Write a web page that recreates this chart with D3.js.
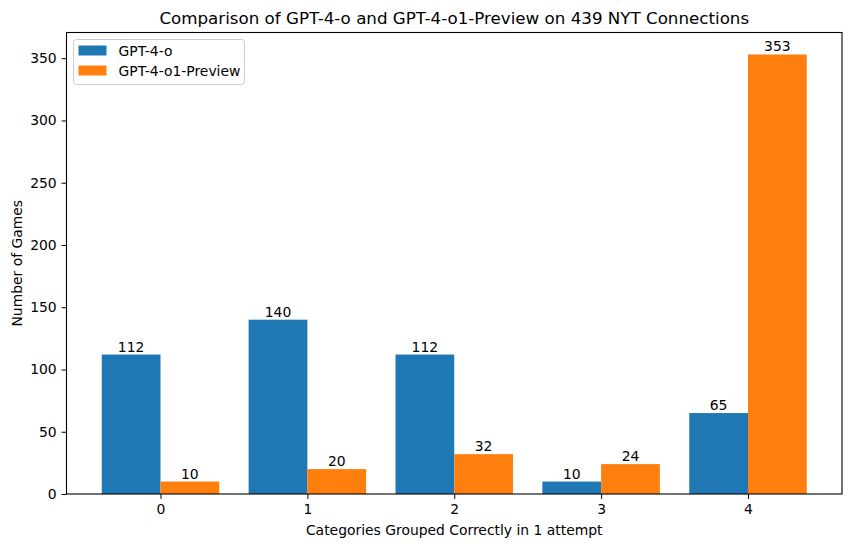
<!DOCTYPE html>
<html>
<head>
<meta charset="utf-8">
<script src="https://cdn.jsdelivr.net/npm/d3@7"></script>
<style>
  body { margin: 0; background: white; }
  text { font-family: "DejaVu Sans", sans-serif; }
</style>
</head>
<body>
<script>
const categories = [0, 1, 2, 3, 4]
const seriesNames = ["GPT-4-o", "GPT-4-o1-Preview"]
const gpt4o = [112, 140, 112, 10, 65]
const gpt4o1 = [10, 20, 32, 24, 353]
const yTicks = [0, 50, 100, 150, 200, 250, 300, 350]

const width = 850
const height = 547
const colors = ["#1f77b4", "#ff7f0e"]
const barWidth = 0.4

const mLeft = 66.5, mRight = 842, mTop = 32.5, mBottom = 494

const svg = d3.select("body")
    .append("svg")
    .attr("width", width)
    .attr("height", height)
    .attr("viewBox", [0, 0, width, height])

const x = d3.scaleLinear().domain([-0.64, 4.64]).range([mLeft, mRight])
const y = d3.scaleLinear().domain([0, 353 * 1.05]).range([mBottom, mTop])

const series = [gpt4o, gpt4o1]
series.forEach((vals, si) => {
    const off = si === 0 ? -barWidth : 0
    svg.selectAll(".bar" + si)
        .data(vals)
        .enter()
        .append("rect")
        .attr("x", (d, i) => x(categories[i] + off))
        .attr("width", x(barWidth) - x(0))
        .attr("y", d => y(d))
        .attr("height", d => y(0) - y(d))
        .attr("fill", colors[si])
    svg.selectAll(".lab" + si)
        .data(vals)
        .enter()
        .append("text")
        .attr("x", (d, i) => x(categories[i] + off + barWidth / 2))
        .attr("y", d => y(d) - 3)
        .attr("text-anchor", "middle")
        .style("font-size", "13.9px")
        .text(d => d)
})

// axes
const xAxis = svg.append("g")
    .attr("transform", `translate(0,${mBottom})`)
    .call(d3.axisBottom(x).tickValues(categories).tickFormat(d3.format("d")).tickSize(4.9).tickPadding(4.9))
const yAxis = svg.append("g")
    .attr("transform", `translate(${mLeft},0)`)
    .call(d3.axisLeft(y).tickValues(yTicks).tickSize(4.9).tickPadding(4.9))
;[xAxis, yAxis].forEach(g => {
    g.select(".domain").remove()
    g.selectAll("text").style("font-size", "13.9px").attr("fill", "black").style("font-family", "DejaVu Sans")
    g.selectAll("line").attr("stroke", "black").attr("stroke-width", 1)
})

svg.append("rect")
    .attr("x", mLeft).attr("y", mTop)
    .attr("width", mRight - mLeft).attr("height", mBottom - mTop)
    .attr("fill", "none").attr("stroke", "black").attr("stroke-width", 1.1)

// titles
svg.append("text")
    .attr("x", (mLeft + mRight) / 2).attr("y", 24)
    .attr("text-anchor", "middle")
    .style("font-size", "16.7px")
    .text("Comparison of GPT-4-o and GPT-4-o1-Preview on 439 NYT Connections")
svg.append("text")
    .attr("x", (mLeft + mRight) / 2).attr("y", 535)
    .attr("text-anchor", "middle")
    .style("font-size", "13.9px")
    .text("Categories Grouped Correctly in 1 attempt")
svg.append("text")
    .attr("transform", `translate(22,${(mTop + mBottom) / 2}) rotate(-90)`)
    .attr("text-anchor", "middle")
    .style("font-size", "13.9px")
    .text("Number of Games")

// legend
const legend = svg.append("g").attr("transform", `translate(${mLeft + 7},${mTop + 7})`)
legend.append("rect")
    .attr("width", 171).attr("height", 45).attr("rx", 3)
    .attr("fill", "white").attr("fill-opacity", 0.8)
    .attr("stroke", "#cccccc")
seriesNames.forEach((name, i) => {
    legend.append("rect")
        .attr("x", 5).attr("y", 6 + i * 20)
        .attr("width", 28).attr("height", 10)
        .attr("fill", colors[i])
    legend.append("text")
        .attr("x", 45).attr("y", 11 + i * 20)
        .attr("dominant-baseline", "central")
        .style("font-size", "13.9px")
        .text(name)
})
</script>
</body>
</html>
